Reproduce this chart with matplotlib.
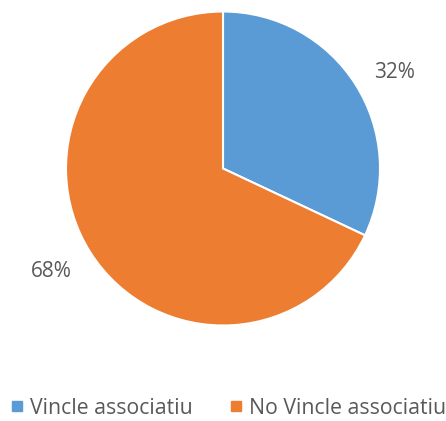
import numpy as np
import matplotlib.pyplot as plt
from matplotlib.lines import Line2D

labels = ["Vincle associatiu", "No Vincle associatiu"]
values = [32, 68]
colors = ["#5B9BD5", "#ED7D31"]
text_color = "#595959"

plt.rcParams['font.family'] = ['Open Sans', 'DejaVu Sans']

fig = plt.figure(figsize=(4.46, 4.21), dpi=100)
ax = fig.add_axes([66 / 446, 1 - 326 / 421, 314 / 446, 315 / 421])

wedges, _ = ax.pie(values, colors=colors, startangle=90, counterclock=False,
                   wedgeprops=dict(edgecolor="white", linewidth=1.5))

# percentage labels outside the slices, placed like Excel does
for w, v in zip(wedges, values):
    ang = np.deg2rad((w.theta1 + w.theta2) / 2 - 2.3)
    ax.text(1.265 * np.cos(ang), 1.265 * np.sin(ang) - 0.02, f"{v}%", ha="center", va="center",
            color=text_color, fontsize=15)
ax.set_xlim(-1, 1)
ax.set_ylim(-1, 1)

handles = [Line2D([], [], marker="s", linestyle="none", markersize=6.5,
                  markerfacecolor=c, markeredgecolor=c) for c in colors]
leg = fig.legend(handles, labels, loc="center", bbox_to_anchor=(229 / 446, 1 - 408 / 421),
                 ncol=2, frameon=False, fontsize=15.3, handlelength=0.5,
                 handletextpad=0.35, columnspacing=1.8, borderpad=0, borderaxespad=0)
for t in leg.get_texts():
    t.set_color(text_color)

fig.savefig("out.png", dpi=100)
